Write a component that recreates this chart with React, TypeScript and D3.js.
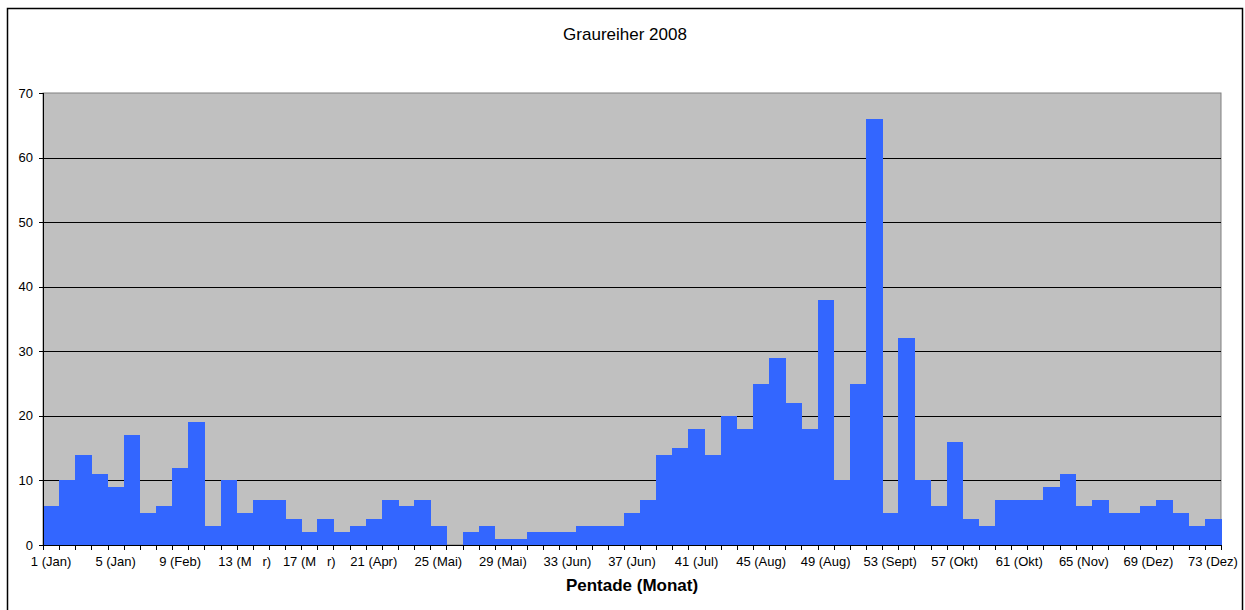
import React from "react";
import * as d3 from "d3";

const pentades: number[] = d3.range(1, 74);
const counts: number[] = [
  6, 10, 14, 11, 9, 17, 5, 6, 12, 19,
  3, 10, 5, 7, 7, 4, 2, 4, 2, 3,
  4, 7, 6, 7, 3, 0, 2, 3, 1, 1,
  2, 2, 2, 3, 3, 3, 5, 7, 14, 15,
  18, 14, 20, 18, 25, 29, 22, 18, 38, 10,
  25, 66, 5, 32, 10, 6, 16, 4, 3, 7,
  7, 7, 9, 11, 6, 7, 5, 5, 6, 7,
  5, 3, 4,
];
const tickLabels: string[] = [
  "1 (Jan)", "5 (Jan)", "9 (Feb)", "13 (M\u00a0\u00a0\u00a0r)", "17 (M\u00a0\u00a0\u00a0r)",
  "21 (Apr)", "25 (Mai)", "29 (Mai)", "33 (Jun)", "37 (Jun)", "41 (Jul)",
  "45 (Aug)", "49 (Aug)", "53 (Sept)", "57 (Okt)", "61 (Okt)", "65 (Nov)",
  "69 (Dez)", "73 (Dez)",
];
const yTicks: number[] = [0, 10, 20, 30, 40, 50, 60, 70];
const title = "Graureiher 2008";
const xTitle = "Pentade (Monat)";

const W = 1245;
const H = 610;
const left = 43, right = 1221, top = 93, bottom = 545;

export default function App() {
  const x = d3.scaleBand<number>().domain(pentades).range([left, right]).padding(0);
  const y = d3.scaleLinear().domain([0, 70]).range([bottom, top]);
  const bw = x.bandwidth();
  const font = "'Liberation Sans', Arial, sans-serif";
  const labelled = pentades.filter((p) => (p - 1) % 4 === 0);

  return (
    <svg width={W} height={H} style={{ position: "absolute", left: 0, top: 0, background: "#fff" }} fontFamily={font}>
      {/* outer frame */}
      <path d={`M7.5,${H + 5} V8.5 H1242.5 V${H + 5}`} fill="none" stroke="#000" strokeWidth={1.5} />
      <text x={625} y={40} textAnchor="middle" fontSize={17} fill="#000">{title}</text>
      {/* plot background */}
      <rect x={left} y={top} width={right - left} height={bottom - top} fill="#C0C0C0" stroke="#808080" strokeWidth={1} />
      {/* gridlines */}
      {yTicks.filter((t) => t > 0 && t < 70).map((t) => (
        <line key={"g" + t} x1={left} x2={right} y1={Math.round(y(t)) + 0.5} y2={Math.round(y(t)) + 0.5} stroke="#000" strokeWidth={1} />
      ))}
      {/* bars */}
      <g shapeRendering="crispEdges">
        {pentades.map((p, i) => (
          counts[i] > 0 ? (
            <rect key={"b" + p} x={x(p)!} y={y(counts[i])} width={bw + 0.5} height={bottom - y(counts[i])} fill="#3366FF" />
          ) : null
        ))}
      </g>
      {/* axes */}
      <line x1={left + 0.5} x2={left + 0.5} y1={top} y2={bottom} stroke="#000" />
      <line x1={left} x2={right} y1={bottom + 0.5} y2={bottom + 0.5} stroke="#000" />
      {yTicks.map((t) => (
        <g key={"y" + t}>
          <line x1={left - 4} x2={left} y1={Math.round(y(t)) + 0.5} y2={Math.round(y(t)) + 0.5} stroke="#000" />
          <text x={left - 10} y={y(t) + 4.5} textAnchor="end" fontSize={13} fill="#000">{t}</text>
        </g>
      ))}
      {d3.range(0, 74).map((i) => {
        const xx = Math.round(left + i * bw) + 0.5;
        return <line key={"xt" + i} x1={xx} x2={xx} y1={bottom} y2={bottom + 5} stroke="#000" />;
      })}
      {labelled.map((p, j) => (
        <text key={"xl" + p} x={x(p)! + bw / 2} y={566} textAnchor="middle" fontSize={13} fill="#000" style={{ whiteSpace: "pre" }}>
          {tickLabels[j]}
        </text>
      ))}
      <text x={(left + right) / 2} y={591} textAnchor="middle" fontSize={17} fontWeight="bold" fill="#000">{xTitle}</text>
    </svg>
  );
}
